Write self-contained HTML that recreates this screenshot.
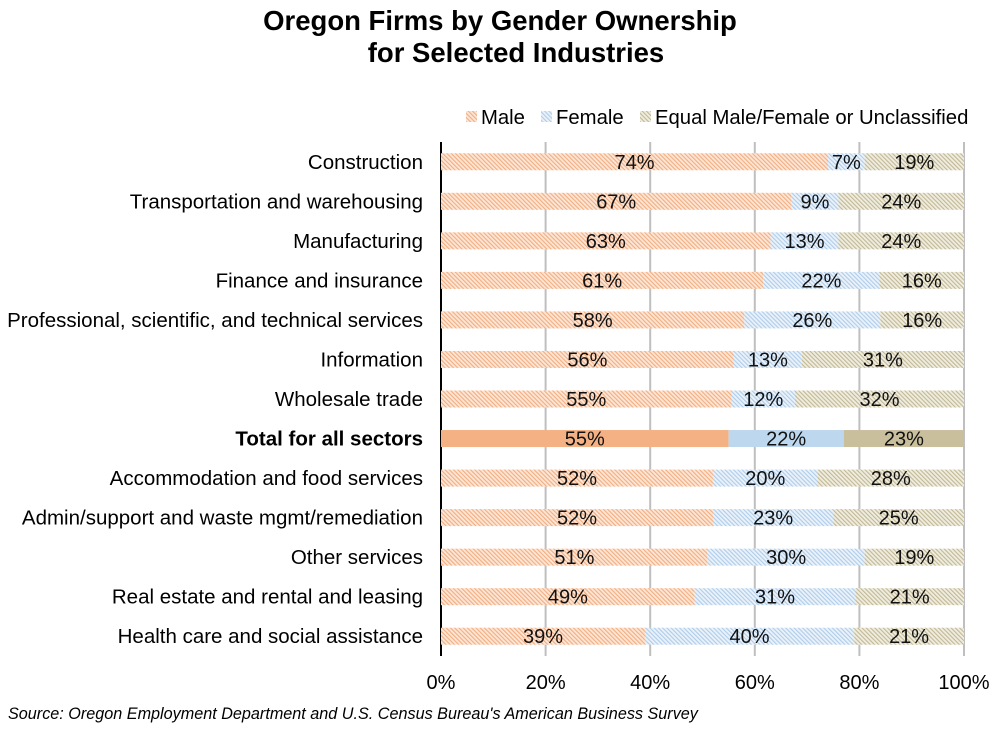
<!DOCTYPE html>
<html><head><meta charset="utf-8"><style>
body{margin:0;background:#fff;}
svg text{font-family:"Liberation Sans",Arial,sans-serif;}
</style></head><body>
<svg id="chart" width="1000" height="726" viewBox="0 0 1000 726" xmlns="http://www.w3.org/2000/svg">
<defs>
<pattern id="pm" patternUnits="userSpaceOnUse" width="3" height="3" patternTransform="rotate(-45)"><rect width="3" height="3" fill="#fce6d6"/><rect width="1.1" height="3" fill="#f2ad80"/></pattern>
<pattern id="pf" patternUnits="userSpaceOnUse" width="3" height="3" patternTransform="rotate(-45)"><rect width="3" height="3" fill="#eaf2fa"/><rect width="1.1" height="3" fill="#afcce9"/></pattern>
<pattern id="pe" patternUnits="userSpaceOnUse" width="3" height="3" patternTransform="rotate(-45)"><rect width="3" height="3" fill="#f0ede0"/><rect width="1.1" height="3" fill="#c0b894"/></pattern>
</defs>
<text x="500" y="30" text-anchor="middle" font-size="27.5" font-weight="bold">Oregon Firms by Gender Ownership</text>
<text x="516" y="62" text-anchor="middle" font-size="27.5" font-weight="bold">for Selected Industries</text>
<g>
<rect x="466" y="111" width="11" height="11" fill="url(#pm)"/>
<text x="481" y="124" font-size="20.3">Male</text>
<rect x="541" y="111" width="11" height="11" fill="url(#pf)"/>
<text x="556" y="124" font-size="20.3">Female</text>
<rect x="640" y="111" width="11" height="11" fill="url(#pe)"/>
<text x="655" y="124" font-size="20.3">Equal Male/Female or Unclassified</text>
</g>
<g id="grid"></g>
<g id="bars"></g>
<g id="labels"></g>
<text x="8" y="719" font-size="16.2" font-style="italic">Source: Oregon Employment Department and  U.S. Census Bureau's American Business Survey</text>
</svg>
<script>
const categories=["Construction","Transportation and warehousing","Manufacturing","Finance and insurance","Professional, scientific, and technical services","Information","Wholesale trade","Total for all sectors","Accommodation and food services","Admin/support and waste mgmt/remediation","Other services","Real estate and rental and leasing","Health care and social assistance"];
const male=[74,67,63,61,58,56,55,55,52,52,51,49,39];
const female=[7,9,13,22,26,13,12,22,20,23,30,31,40];
const equal=[19,24,24,16,16,31,32,23,28,25,19,21,21];
const ticks=[0,20,40,60,80,100];
const NS="http://www.w3.org/2000/svg";
const x0=441,x1=964,y0=142,y1=656;
const xs=v=>x0+(x1-x0)*v/100;
const band=(y1-y0)/categories.length;
const yc=i=>y0+band*(i+0.5);
function mk(tag,attrs,parent){const e=document.createElementNS(NS,tag);for(const k in attrs)e.setAttribute(k,attrs[k]);parent.appendChild(e);return e;}
const grid=document.getElementById('grid'),bars=document.getElementById('bars'),labels=document.getElementById('labels');
ticks.forEach(t=>{
 if(t>0){const l=mk('line',{x1:xs(t),x2:xs(t),y1:y0,y2:y1,stroke:'#bfbfbf','stroke-width':2},grid);
 
 }
 const tx=mk('text',{x:xs(t),y:y1+33,'text-anchor':'middle','font-size':20,},grid);tx.textContent=t+'%';
 
 
});
categories.forEach((c,i)=>{
 const tot=c.startsWith('Total');
 const cy=yc(i),h=17;
 const sum=male[i]+female[i]+equal[i];
 const segs=[[male[i],tot?'#f4b183':'url(#pm)','male'],[female[i],tot?'#bdd7ee':'url(#pf)','female'],[equal[i],tot?'#c9bf9c':'url(#pe)','equal']];
 let acc=0;
 segs.forEach(([v,f,n])=>{
  const a=acc*100/sum,b=(acc+v)*100/sum;
  const r=mk('rect',{x:xs(a),y:cy-h/2,width:xs(b)-xs(a),height:h,fill:f},bars);
  
  
  const t=mk('text',{x:(xs(a)+xs(b))/2,y:cy+7,'text-anchor':'middle','font-size':20,fill:'#111'},labels);
  t.textContent=v+'%';
  
  
  acc+=v;
 });
 const ct=mk('text',{x:423,y:cy+7,'text-anchor':'end','font-size':20.5,'font-weight':tot?'bold':'normal'},labels);
 ct.textContent=c;
 
 
});
const ax=mk('line',{x1:x0,x2:x0,y1:y0,y2:y1,stroke:'#000','stroke-width':2},grid);


</script>
</body></html>
